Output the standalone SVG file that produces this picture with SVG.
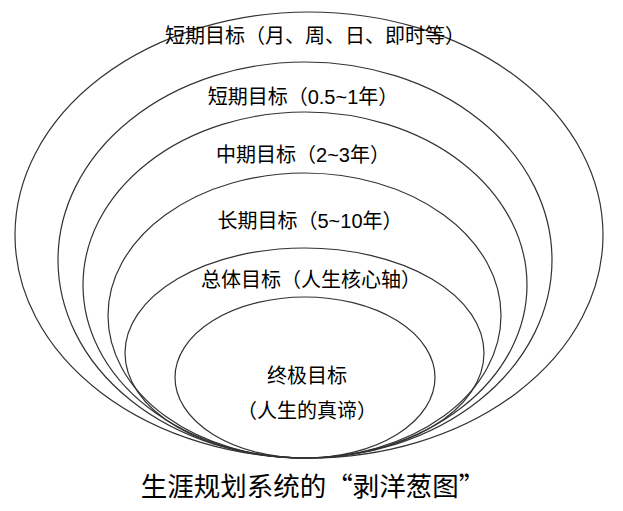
<svg xmlns="http://www.w3.org/2000/svg" width="623" height="511" viewBox="0 0 623 511">
<style>
.ring{fill:none;stroke:#333;stroke-width:1.2}
.lbl{font-family:"Liberation Sans","Noto Sans CJK SC",sans-serif;font-size:20px;fill:#000;text-anchor:middle}
.title{font-family:"Noto Sans CJK SC",sans-serif;font-size:26.5px;fill:#000;text-anchor:middle}
</style>
<rect width="623" height="511" fill="#fff"/>
<g id="ring-short-daily">
<ellipse class="ring" cx="309" cy="235" rx="294" ry="223"/>
<text class="lbl" x="315" y="43">短期目标（月、周、日、即时等）</text>
</g>
<g id="ring-short-year">
<ellipse class="ring" cx="305" cy="260" rx="247" ry="198"/>
<text class="lbl" x="303" y="104">短期目标（0.5~1年）</text>
</g>
<g id="ring-mid">
<ellipse class="ring" cx="305" cy="285" rx="222" ry="173"/>
<text class="lbl" x="303" y="162">中期目标（2~3年）</text>
</g>
<g id="ring-long">
<ellipse class="ring" cx="304.5" cy="315.5" rx="196.5" ry="142.5"/>
<text class="lbl" x="310" y="228">长期目标（5~10年）</text>
</g>
<g id="ring-overall">
<ellipse class="ring" cx="304.5" cy="353" rx="179.5" ry="105"/>
<text class="lbl" x="311" y="287">总体目标（人生核心轴）</text>
</g>
<g id="ring-ultimate">
<ellipse class="ring" cx="305" cy="377.5" rx="130" ry="80.5"/>
<text class="lbl" x="307" y="383">终极目标</text>
<text class="lbl" x="307" y="418">（人生的真谛）</text>
</g>
<g id="connectors"></g>
<text class="title" x="313" y="496">生涯规划系统的“剥洋葱图”</text>
</svg>
